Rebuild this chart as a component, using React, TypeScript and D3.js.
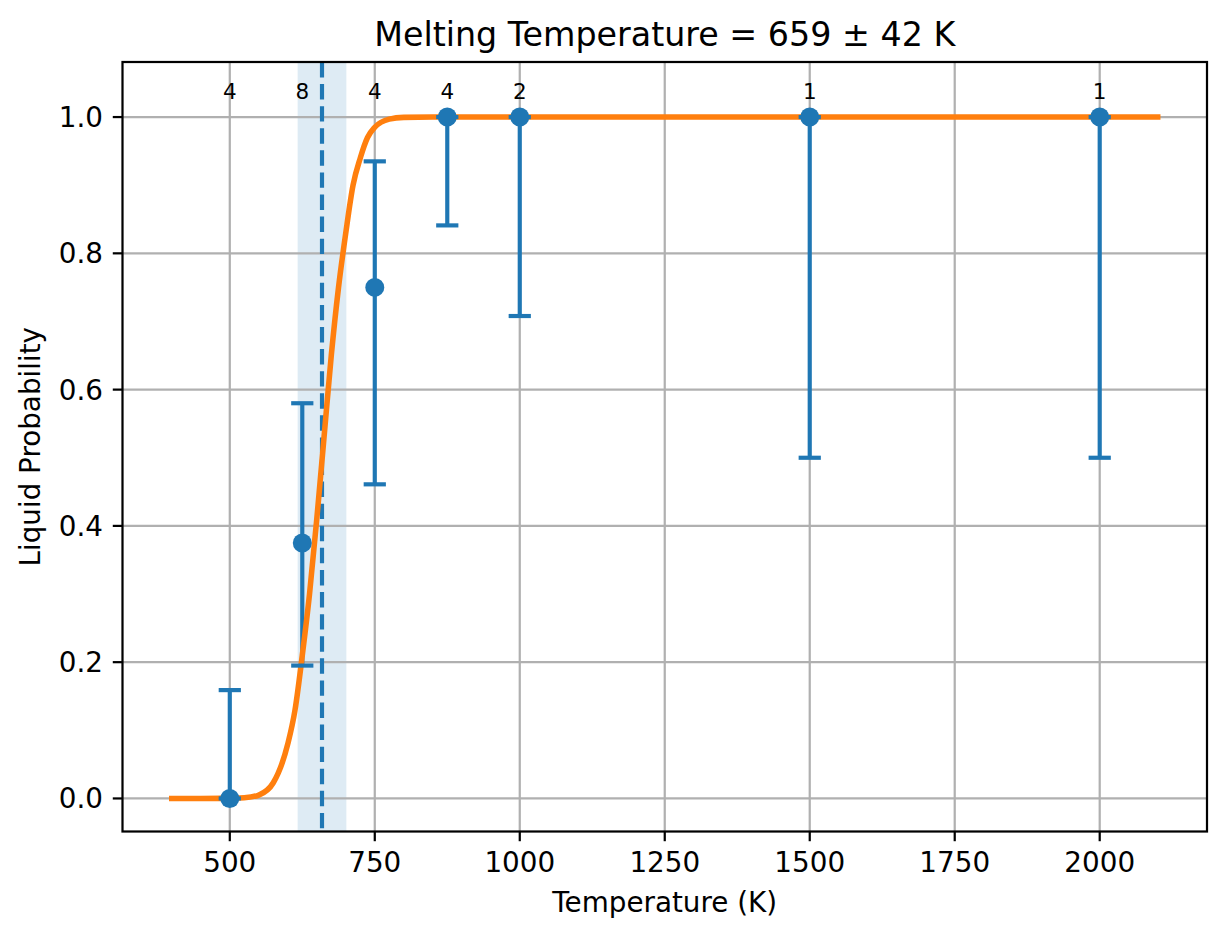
import React from "react";
import * as d3 from "d3";

const temps = [500, 625, 750, 875, 1000, 1500, 2000];
const probs = [0.0, 0.375, 0.75, 1.0, 1.0, 1.0, 1.0];
const lowers = [0.0, 0.195, 0.461, 0.841, 0.708, 0.5, 0.5];
const uppers = [0.159, 0.58, 0.935, 1.0, 1.0, 1.0, 1.0];
const counts = [4, 8, 4, 4, 2, 1, 1];

const curveT = [400, 450, 500, 525, 550, 575, 600, 612.5, 625, 637.5, 650, 662.5, 675, 687.5, 700, 712.5, 725, 737.5, 750, 775, 800, 850, 2100];
const curveP = [0, 0, 0.0005, 0.001, 0.005, 0.023, 0.08, 0.13, 0.21, 0.3, 0.41, 0.53, 0.65, 0.75, 0.83, 0.9, 0.94, 0.97, 0.985, 0.997, 0.9995, 1, 1];

const meltT = 659;
const meltErr = 42;
const xTicks = [500, 750, 1000, 1250, 1500, 1750, 2000];
const yTicks = [0, 0.2, 0.4, 0.6, 0.8, 1.0];

const W = 1227;
const H = 939;
const L = 122.5, R = 1207, T = 62, B = 831.5;
const BLUE = "#1f77b4";
const ORANGE = "#ff7f0e";
const FONT = "'DejaVu Sans', sans-serif";
const K = 2.778;

export default function App() {
  const x = d3.scaleLinear().domain([315, 2185]).range([L, R]);
  const y = d3.scaleLinear().domain([-0.0485, 1.0808]).range([B, T]);
  const line = d3
    .line<number>()
    .x((_, i) => x(curveT[i]))
    .y((d) => y(d))
    .curve(d3.curveMonotoneX);
  const fmtY = d3.format(".1f");
  const cap = 4 * K;
  const tickLen = 3.5 * K;
  return (
    <svg width={W} height={H} style={{ position: "absolute", left: 0, top: 0, background: "#fff" }}>
      <rect x={0} y={0} width={W} height={H} fill="#fff" />
      <defs>
        <clipPath id="ax">
          <rect x={L} y={T} width={R - L} height={B - T} />
        </clipPath>
      </defs>
      {/* band */}
      <rect
        x={x(meltT - meltErr)}
        y={T}
        width={x(meltT + meltErr) - x(meltT - meltErr)}
        height={B - T}
        fill={BLUE}
        fillOpacity={0.15}
      />
      {/* grid */}
      <g stroke="#b0b0b0" strokeWidth={0.8 * K}>
        {xTicks.map((t) => (
          <line key={"gx" + t} x1={x(t)} x2={x(t)} y1={T} y2={B} />
        ))}
        {yTicks.map((t) => (
          <line key={"gy" + t} x1={L} x2={R} y1={y(t)} y2={y(t)} />
        ))}
      </g>
      {/* error bars */}
      <g stroke={BLUE} strokeWidth={1.5 * K}>
        {temps.map((t, i) => (
          <line key={"eb" + i} x1={x(t)} x2={x(t)} y1={y(lowers[i])} y2={y(uppers[i])} />
        ))}
      </g>
      {/* dashed line */}
      <line
        x1={x(meltT)}
        x2={x(meltT)}
        y1={T}
        y2={B}
        stroke={BLUE}
        strokeWidth={1.5 * K}
        strokeDasharray={`${3.7 * 1.5 * K} ${1.6 * 1.5 * K}`}
      />
      {/* curve */}
      <g clipPath="url(#ax)">
        <path d={line(curveP) || ""} fill="none" stroke={ORANGE} strokeWidth={2 * K} strokeLinecap="square" />
      </g>
      {/* caps */}
      <g stroke={BLUE} strokeWidth={1.5 * K}>
        {temps.map((t, i) => (
          <g key={"cap" + i}>
            <line x1={x(t) - cap} x2={x(t) + cap} y1={y(lowers[i])} y2={y(lowers[i])} />
            <line x1={x(t) - cap} x2={x(t) + cap} y1={y(uppers[i])} y2={y(uppers[i])} />
          </g>
        ))}
      </g>
      {/* markers */}
      <g fill={BLUE}>
        {temps.map((t, i) => (
          <circle key={"m" + i} cx={x(t)} cy={y(probs[i])} r={9.5} />
        ))}
      </g>
      {/* counts */}
      <g fontFamily={FONT} fontSize={21.5} textAnchor="middle" fill="#000">
        {temps.map((t, i) => (
          <text key={"c" + i} x={x(t)} y={y(1.025) - 1}>
            {counts[i]}
          </text>
        ))}
      </g>
      {/* spines */}
      <rect x={L} y={T} width={R - L} height={B - T} fill="none" stroke="#000" strokeWidth={0.8 * K} />
      {/* x ticks */}
      <g fontFamily={FONT} fontSize={27.8} textAnchor="middle" fill="#000">
        {xTicks.map((t) => (
          <g key={"xt" + t}>
            <line x1={x(t)} x2={x(t)} y1={B} y2={B + tickLen} stroke="#000" strokeWidth={0.8 * K} />
            <text x={x(t)} y={872}>
              {t}
            </text>
          </g>
        ))}
      </g>
      {/* y ticks */}
      <g fontFamily={FONT} fontSize={27.8} textAnchor="end" fill="#000">
        {yTicks.map((t) => (
          <g key={"yt" + t}>
            <line x1={L - tickLen} x2={L} y1={y(t)} y2={y(t)} stroke="#000" strokeWidth={0.8 * K} />
            <text x={L - 2 * tickLen} y={y(t)} dy="0.36em">
              {fmtY(t)}
            </text>
          </g>
        ))}
      </g>
      <text x={(L + R) / 2} y={912} fontFamily={FONT} fontSize={27.8} textAnchor="middle">
        Temperature (K)
      </text>
      <text
        transform={`translate(40, ${(T + B) / 2}) rotate(-90)`}
        fontFamily={FONT}
        fontSize={27.8}
        textAnchor="middle"
      >
        Liquid Probability
      </text>
      <text x={(L + R) / 2} y={46} fontFamily={FONT} fontSize={33.3} textAnchor="middle">
        Melting Temperature = {meltT} ± {meltErr} K
      </text>
    </svg>
  );
}
